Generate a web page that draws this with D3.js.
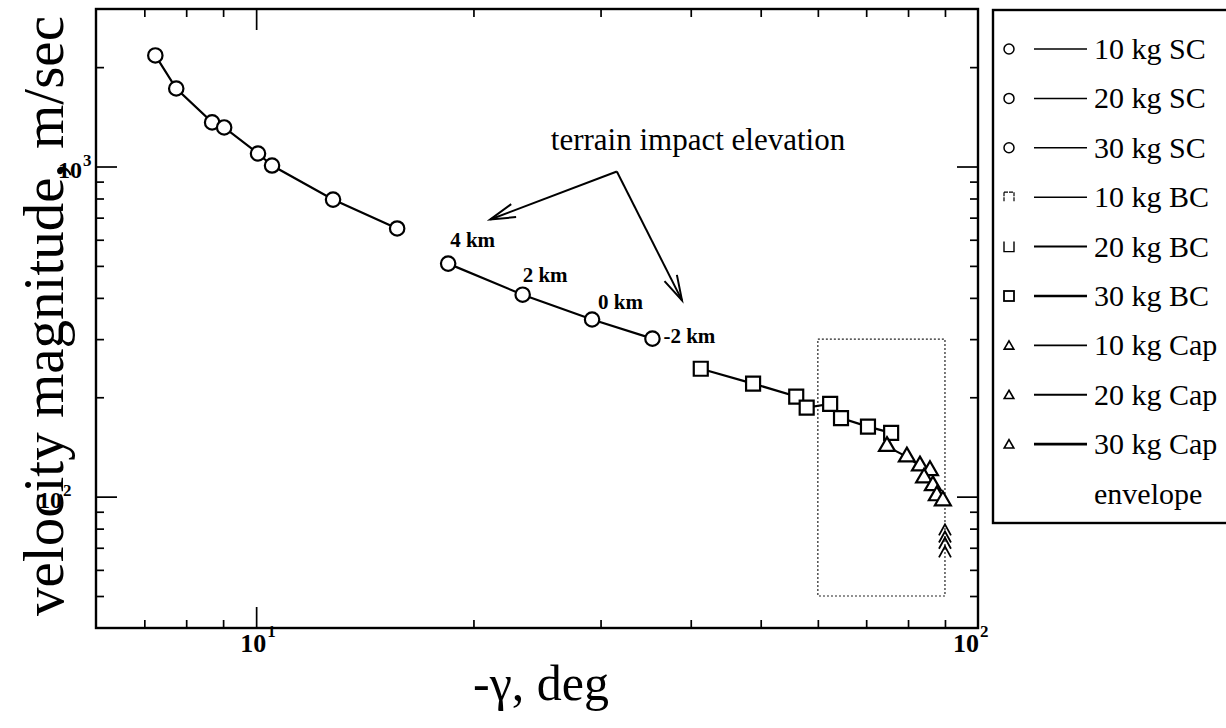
<!DOCTYPE html>
<html>
<head>
<meta charset="utf-8">
<script src="https://cdn.jsdelivr.net/npm/d3@7"></script>
<style>
  html, body { margin: 0; padding: 0; background: #fff; }
  svg { display: block; }
  text { font-family: "Liberation Serif", "Times New Roman", serif; fill: #000; }
</style>
</head>
<body>
<svg id="chart" width="1226" height="728"></svg>
<script>
// ---------------- data ----------------
// SC (sphere-cone) trajectories, upper branch
const scGamma = [7.25, 7.75, 8.69, 9.03, 10.06, 10.52, 12.78, 15.68];
const scVel   = [2170, 1723, 1360, 1313, 1095, 1007, 794, 649];
// SC terrain impact elevation branch
const terrainGamma  = [18.45, 23.4, 29.2, 35.4];
const terrainVel    = [508, 409, 344, 301];
const terrainLabels = ["4 km", "2 km", "0 km", "-2 km"];
// BC trajectories
const bcGamma = [41.3, 48.8, 56.0, 57.9, 62.4, 64.6, 70.4, 75.8];
const bcVel   = [244, 220, 201, 186, 191, 173, 163, 156];
// Capsule trajectories
const capGamma = [74.8, 79.7, 83.1, 85.8, 84.2, 86.6, 87.7, 89.4];
const capVel   = [142, 132, 124, 120, 114, 108, 100.7, 97.2];
// Capsule points stacked at the 90 deg limit (drawn as chevrons)
const capEdgeGamma = [90, 90, 90, 90];
const capEdgeVel   = [79, 75.2, 72, 67.8];
// envelope box (gamma range, velocity range)
const envelopeGamma = [60, 90];
const envelopeVel   = [50, 300];
// annotation arrow: vertex and two tips (gamma, velocity)
const arrowGamma = [31.6, 21.1, 38.9];
const arrowVel   = [966, 691, 393];
const annotationText = "terrain impact elevation";
// axis ticks
const xMajorTicks = [10];
const xMinorTicks = [7, 8, 9, 20, 30, 40, 50, 60, 70, 80, 90];
const yMajorTicks = [100, 1000];
const yMinorTicks = [50, 60, 70, 80, 90, 200, 300, 400, 500, 600, 700, 800, 900, 2000];
const xTickLabels = [{v: 10, exp: "1"}, {v: 100, exp: "2"}];
const yTickLabels = [{v: 1000, exp: "3"}, {v: 100, exp: "2"}];
// legend
const legendLabels = ["10 kg SC", "20 kg SC", "30 kg SC", "10 kg BC", "20 kg BC", "30 kg BC",
                      "10 kg Cap", "20 kg Cap", "30 kg Cap", "envelope"];
const legendMarkers = ["circle", "circle", "circle", "sqA", "sqB", "square", "tri", "tri", "tri", "none"];
const xTitle = "-\u03b3, deg";
const yTitle = "velocity magnitude, m/sec";

// ---------------- layout ----------------
const L = 96, R = 978, T = 9, B = 628;
const svg = d3.select("#chart");
svg.append("rect").attr("width", 1226).attr("height", 728).attr("fill", "#fff");

const x = d3.scaleLog().domain([6, 100]).range([L, R]);
const y = d3.scaleLog().domain([40, 3000]).range([B, T]);

// ---------------- axes (inward ticks on all four sides) ----------------
function drawAxis(axisFn, scale, values, size, tx, ty) {
  const g = svg.append("g").attr("transform", `translate(${tx},${ty})`)
    .call(axisFn(scale).tickValues(values).tickSize(-size).tickFormat(""));
  g.select(".domain").remove();
  g.selectAll(".tick line").attr("stroke", "#000").attr("stroke-width", 1.7);
}
[[xMinorTicks, 8], [xMajorTicks, 21]].forEach(([vals, s]) => {
  drawAxis(d3.axisBottom, x, vals, s, 0, B);
  drawAxis(d3.axisTop, x, vals, s, 0, T);
});
[[yMinorTicks, 8], [yMajorTicks, 21]].forEach(([vals, s]) => {
  drawAxis(d3.axisLeft, y, vals, s, L, 0);
  drawAxis(d3.axisRight, y, vals, s, R, 0);
});

// frame
svg.append("rect").attr("x", L).attr("y", T).attr("width", R - L).attr("height", B - T)
  .attr("fill", "none").attr("stroke", "#000").attr("stroke-width", 2.4);

// axis titles
svg.append("text").attr("transform", "translate(63,316) rotate(-90)")
  .attr("text-anchor", "middle").attr("font-size", 57).text(yTitle);
svg.append("text").attr("x", 541).attr("y", 700).attr("text-anchor", "middle")
  .attr("font-size", 50).text(xTitle);

// tick labels
xTickLabels.forEach(d => {
  const cx = d.v === 100 ? x(d.v) - 12 : x(d.v) - 3;
  svg.append("text").attr("x", cx).attr("y", 652).attr("text-anchor", "middle")
    .attr("font-size", 26).attr("font-weight", "bold").text("10");
  svg.append("text").attr("x", cx + 14).attr("y", 637)
    .attr("font-size", 17).attr("font-weight", "bold").text(d.exp);
});
yTickLabels.forEach(d => {
  const ex = d.v === 1000 ? 82 : 62;
  svg.append("text").attr("x", ex).attr("y", y(d.v) + 11).attr("text-anchor", "end")
    .attr("font-size", 24).attr("font-weight", "bold").text("10");
  svg.append("text").attr("x", ex + 1).attr("y", y(d.v) - 1)
    .attr("font-size", 17).attr("font-weight", "bold").text(d.exp);
});

// ---------------- envelope ----------------
svg.append("rect")
  .attr("x", x(envelopeGamma[0])).attr("y", y(envelopeVel[1]))
  .attr("width", x(envelopeGamma[1]) - x(envelopeGamma[0]))
  .attr("height", y(envelopeVel[0]) - y(envelopeVel[1]))
  .attr("fill", "none").attr("stroke", "#222").attr("stroke-width", 1.2)
  .attr("stroke-dasharray", "2,2");

// ---------------- series ----------------
const line = d3.line().x(d => x(d[0])).y(d => y(d[1]));
const zip = (a, b) => a.map((v, i) => [v, b[i]]);
const scPts = zip(scGamma, scVel);
const terPts = zip(terrainGamma, terrainVel);
const bcPts = zip(bcGamma, bcVel);
const capPts = zip(capGamma, capVel);
const edgePts = zip(capEdgeGamma, capEdgeVel);

[scPts, terPts, bcPts, capPts].forEach(p => {
  svg.append("path").attr("d", line(p)).attr("fill", "none")
    .attr("stroke", "#000").attr("stroke-width", 2.2);
});
// thin tail of capsule line down to the limit
svg.append("path").attr("d", line([capPts[capPts.length - 1], [90, 94]]))
  .attr("fill", "none").attr("stroke", "#000").attr("stroke-width", 2);

svg.selectAll(".sc").data(scPts.concat(terPts)).join("circle")
  .attr("cx", d => x(d[0])).attr("cy", d => y(d[1])).attr("r", 7.2)
  .attr("fill", "#fff").attr("stroke", "#000").attr("stroke-width", 2.2);

svg.selectAll(".bc").data(bcPts).join("path")
  .attr("transform", d => `translate(${x(d[0])},${y(d[1])})`)
  .attr("d", d3.symbol(d3.symbolSquare, 196)())
  .attr("fill", "#fff").attr("stroke", "#000").attr("stroke-width", 2.2);

svg.selectAll(".cap").data(capPts).join("path")
  .attr("transform", d => `translate(${x(d[0])},${y(d[1])})`)
  .attr("d", d3.symbol(d3.symbolTriangle, 110)())
  .attr("fill", "#fff").attr("stroke", "#000").attr("stroke-width", 2.2);

svg.selectAll(".edge").data(edgePts).join("path")
  .attr("transform", d => `translate(${x(d[0])},${y(d[1])})`)
  .attr("d", "M-6,5L0,-6L6,5")
  .attr("fill", "none").attr("stroke", "#000").attr("stroke-width", 1.8);

// terrain labels
const labelOffsets = [[2, -17], [0, -13], [6, -11], [11, 4]];
svg.selectAll(".tl").data(terPts).join("text")
  .attr("x", (d, i) => x(d[0]) + labelOffsets[i][0])
  .attr("y", (d, i) => y(d[1]) + labelOffsets[i][1])
  .attr("font-size", 21).attr("font-weight", "bold")
  .text((d, i) => terrainLabels[i]);

// ---------------- annotation ----------------
svg.append("text").attr("x", 698).attr("y", 150).attr("text-anchor", "middle")
  .attr("font-size", 31).text(annotationText);
const vtx = [x(arrowGamma[0]), y(arrowVel[0])];
[1, 2].forEach(i => {
  const tip = [x(arrowGamma[i]), y(arrowVel[i])];
  svg.append("line").attr("x1", vtx[0]).attr("y1", vtx[1]).attr("x2", tip[0]).attr("y2", tip[1])
    .attr("stroke", "#000").attr("stroke-width", 2);
  const ang = Math.atan2(vtx[1] - tip[1], vtx[0] - tip[0]);
  const len = 26, spread = 0.27;
  const pts = [[tip[0] + len * Math.cos(ang + spread), tip[1] + len * Math.sin(ang + spread)],
               tip,
               [tip[0] + len * Math.cos(ang - spread), tip[1] + len * Math.sin(ang - spread)]];
  svg.append("path").attr("d", d3.line()(pts)).attr("fill", "none")
    .attr("stroke", "#000").attr("stroke-width", 2);
});

// ---------------- legend ----------------
const lg = svg.append("g");
lg.append("rect").attr("x", 993).attr("y", 10).attr("width", 300).attr("height", 513)
  .attr("fill", "#fff").attr("stroke", "#000").attr("stroke-width", 2.4);
const rowY = i => 49 + i * 49.4;
const lineW = [1.5, 1.5, 1.5, 1.6, 2, 2.5, 1.6, 2, 2.7];
legendLabels.forEach((lab, i) => {
  const cy = rowY(i);
  const m = legendMarkers[i];
  const mx = 1009;
  if (m === "circle") {
    lg.append("circle").attr("cx", mx).attr("cy", cy).attr("r", 5)
      .attr("fill", "none").attr("stroke", "#000").attr("stroke-width", 1.5);
  } else if (m === "square") {
    lg.append("rect").attr("x", mx - 5).attr("y", cy - 5).attr("width", 10).attr("height", 10)
      .attr("fill", "none").attr("stroke", "#000").attr("stroke-width", 1.8);
  } else if (m === "sqA") {
    lg.append("path").attr("d", `M${mx - 5},${cy - 5}V${cy + 5}M${mx + 5},${cy - 5}V${cy + 5}M${mx - 5},${cy - 5}H${mx + 5}`)
      .attr("fill", "none").attr("stroke", "#000").attr("stroke-width", 1.2).attr("stroke-dasharray", "4,1");
  } else if (m === "sqB") {
    lg.append("path").attr("d", `M${mx - 5},${cy - 5}V${cy + 5}H${mx + 5}V${cy - 5}`)
      .attr("fill", "none").attr("stroke", "#000").attr("stroke-width", 1.4);
  } else if (m === "tri") {
    lg.append("path").attr("transform", `translate(${mx},${cy + 1})`)
      .attr("d", d3.symbol(d3.symbolTriangle, 40)())
      .attr("fill", "none").attr("stroke", "#000").attr("stroke-width", 1.6);
  }
  if (m !== "none") {
    lg.append("line").attr("x1", 1034).attr("x2", 1087).attr("y1", cy).attr("y2", cy)
      .attr("stroke", "#000").attr("stroke-width", lineW[i]);
  }
  lg.append("text").attr("x", 1094).attr("y", cy + 10).attr("font-size", 30).text(lab);
});
</script>
</body>
</html>
